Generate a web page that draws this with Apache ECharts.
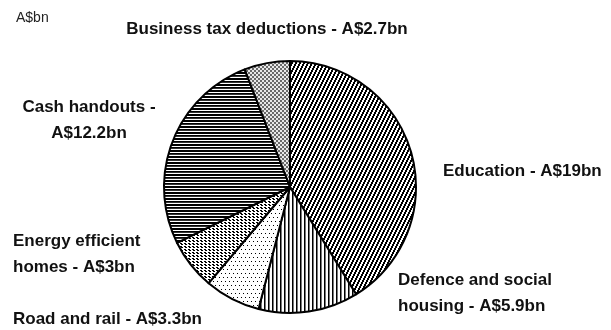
<!DOCTYPE html>
<html>
<head>
<meta charset="utf-8">
<script src="https://cdn.jsdelivr.net/npm/echarts@6/dist/echarts.min.js"></script>
<style>
  html, body { margin: 0; padding: 0; background: #fff; }
  #chart { width: 611px; height: 330px; }
</style>
</head>
<body>
<div id="chart"></div>
<script>
// Stimulus package components, A$bn
const categories = [
  'Education',
  'Defence and social housing',
  'Road and rail',
  'Energy efficient homes',
  'Cash handouts',
  'Business tax deductions'
];
const values = [19, 5.9, 3.3, 3, 12.2, 2.7];
const labelTexts = [
  'Education - A$19bn',
  'Defence and social\nhousing - A$5.9bn',
  'Road and rail - A$3.3bn',
  'Energy efficient\nhomes - A$3bn',
  'Cash handouts -\nA$12.2bn',
  'Business tax deductions - A$2.7bn'
];

// Monochrome fill patterns, built pixel by pixel on small tiles
function tile(w, h, paint) {
  const c = document.createElement('canvas');
  c.width = w; c.height = h;
  const ctx = c.getContext('2d');
  ctx.fillStyle = '#fff';
  ctx.fillRect(0, 0, w, h);
  paint(ctx);
  return { image: c, repeat: 'repeat' };
}
function px(ctx, x, y, col) { ctx.fillStyle = col; ctx.fillRect(x, y, 1, 1); }

const fills = [
  // steep forward diagonal hatching
  tile(4, 8, ctx => {
    const cols = [[2, 3], [1, 2], [0, 1], [3, 0]];
    for (let s = 0; s < 4; s++) for (let r = 0; r < 2; r++)
      cols[s].forEach(x => px(ctx, x, s * 2 + r, '#000'));
  }),
  // vertical lines
  tile(4, 1, ctx => { px(ctx, 0, 0, '#000'); px(ctx, 1, 0, '#777'); }),
  // sparse staggered dots
  tile(8, 8, ctx => {
    px(ctx, 1, 1, '#000'); px(ctx, 5, 1, '#000');
    px(ctx, 3, 5, '#000'); px(ctx, 7, 5, '#000');
  }),
  // dense zig-zag weave
  tile(4, 3, ctx => {
    px(ctx, 0, 0, '#000'); px(ctx, 1, 0, '#000');
    px(ctx, 1, 1, '#000'); px(ctx, 2, 1, '#000');
  }),
  // horizontal lines
  tile(1, 6, ctx => {
    px(ctx, 0, 0, '#000'); px(ctx, 0, 1, '#000'); px(ctx, 0, 3, '#000');
    px(ctx, 0, 4, '#333');
  }),
  // fine grey checker
  tile(4, 4, ctx => {
    ctx.fillStyle = '#e8e8e8'; ctx.fillRect(0, 0, 4, 4);
    ctx.fillStyle = '#6a6a6a';
    ctx.fillRect(0, 0, 2, 2); ctx.fillRect(2, 2, 2, 2);
  })
];

// Label anchor points (x, y, alignment) for each slice
const labelSpots = [
  { x: 443, y: 171, align: 'left' },
  { x: 398, y: 293, align: 'left' },
  { x: 13,  y: 319, align: 'left' },
  { x: 13,  y: 254, align: 'left' },
  { x: 89,  y: 120, align: 'center' },
  { x: 267, y: 29,  align: 'center' }
];

const FONT = '"Liberation Sans Narrow", "Arial Narrow", "Liberation Sans", Arial, sans-serif';

const chart = echarts.init(document.getElementById('chart'), null, { renderer: 'canvas' });
chart.setOption({
  backgroundColor: '#fff',
  animation: false,
  title: {
    text: 'A$bn',
    left: 11, top: 6,
    textStyle: { fontFamily: FONT, fontSize: 14, fontWeight: 'normal', color: '#222' }
  },
  series: [{
    type: 'pie',
    center: [290, 187],
    radius: 126,
    startAngle: 90,
    clockwise: true,
    avoidLabelOverlap: false,
    itemStyle: { borderColor: '#000', borderWidth: 2 },
    emphasis: { disabled: true },
    labelLine: { show: false },
    label: {
      show: true,
      position: 'outside',
      fontFamily: FONT,
      fontSize: 17,
      fontWeight: 'bold',
      color: '#111',
      lineHeight: 26,
      formatter: p => labelTexts[p.dataIndex]
    },
    labelLayout: p => {
      const s = labelSpots[p.dataIndex];
      return { x: s.x, y: s.y, align: s.align, verticalAlign: 'middle', hideOverlap: false };
    },
    data: categories.map((name, i) => ({
      name,
      value: values[i],
      itemStyle: { color: fills[i] }
    }))
  }]
});
</script>
</body>
</html>
